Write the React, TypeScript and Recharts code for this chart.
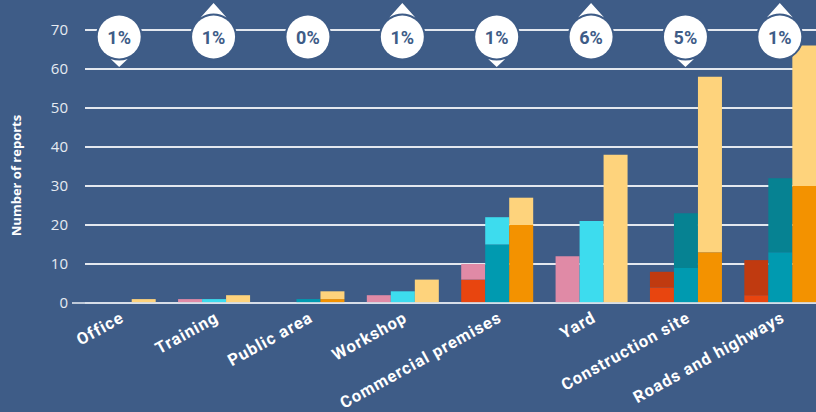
import React from 'react';
import { BarChart, Bar, XAxis, YAxis, CartesianGrid, ReferenceLine, ReferenceDot } from 'recharts';

const categories = ['Office', 'Training', 'Public area', 'Workshop', 'Commercial premises', 'Yard', 'Construction site', 'Roads and highways'];

// three stacks per category, each built from a lower, middle and upper part
const aBase = [0, 0, 0, 0, 6, 0, 4, 2];
const aMid = [0, 0, 0, 0, 0, 0, 4, 9];
const aTop = [0, 1, 0, 2, 4, 12, 0, 0];
const bBase = [0, 0, 1, 0, 15, 0, 9, 13];
const bMid = [0, 0, 0, 0, 0, 0, 14, 19];
const bTop = [0, 1, 0, 3, 7, 21, 0, 0];
const cBase = [0, 0, 1, 0, 20, 0, 13, 30];
const cTop = [1, 2, 2, 6, 7, 38, 45, 36];

const changes = ['1%', '1%', '0%', '1%', '1%', '6%', '5%', '1%'];
const trends = ['down', 'up', 'none', 'up', 'down', 'up', 'down', 'up'];

const yTicks = [0, 10, 20, 30, 40, 50, 60, 70];

const BG = '#3E5C87';
const GRID = '#E3E8EF';

const data = categories.map((name, i) => ({
  name,
  aBase: aBase[i],
  aMid: aMid[i],
  aTop: aTop[i],
  bBase: bBase[i],
  bMid: bMid[i],
  bTop: bTop[i],
  cBase: cBase[i],
  cTop: cTop[i],
}));

const GridLine = (props: any) => (
  <line
    key={props.key}
    x1={props.x1 + 13}
    x2={props.x2}
    y1={props.y1}
    y2={props.y2}
    stroke={GRID}
    strokeWidth={2}
  />
);

const XTick = (props: any) => {
  const { x, y, payload } = props;
  const tx = x + 6;
  const ty = y + 10;
  return (
    <text
      x={tx}
      y={ty}
      textAnchor="end"
      fill="#FFFFFF"
      fontFamily="Roboto, sans-serif"
      fontWeight={700}
      fontSize={16.5}
      letterSpacing={1}
      transform={`rotate(-29, ${tx}, ${ty})`}
    >
      {payload.value}
    </text>
  );
};

const makeBadge = (label: string, trend: string) => (props: any) => {
  const cx = props.cx;
  const cy = props.cy + 7;
  const r = 21.5;
  const R = 23.5;
  let arrow = null;
  if (trend === 'up') {
    const w = 13;
    const h = Math.sqrt(R * R - w * w);
    arrow = (
      <path
        d={`M${cx - w},${cy - h} L${cx},${cy - 34} L${cx + w},${cy - h} A${R} ${R} 0 0 0 ${cx - w},${cy - h} Z`}
        fill="#FFFFFF"
      />
    );
  } else if (trend === 'down') {
    const w = 8.5;
    const h = Math.sqrt(R * R - w * w);
    arrow = (
      <path
        d={`M${cx - w},${cy + h} L${cx},${cy + 30} L${cx + w},${cy + h} A${R} ${R} 0 0 1 ${cx - w},${cy + h} Z`}
        fill="#FFFFFF"
      />
    );
  }
  return (
    <g>
      <circle cx={cx} cy={cy} r={r} fill="#FFFFFF" stroke={BG} strokeWidth={4} paintOrder="stroke" />
      {arrow}
      <text
        x={cx}
        y={cy + 6.5}
        textAnchor="middle"
        fill={BG}
        fontFamily="Roboto, sans-serif"
        fontWeight={700}
        fontSize={18}
      >
        {label}
      </text>
    </g>
  );
};

const App: React.FC = () => {
  return (
    <div style={{ position: 'absolute', left: 0, top: 0, width: 816, height: 412, overflow: 'hidden', background: BG }}>
      <BarChart
        width={827}
        height={412}
        data={data}
        margin={{ top: 30, right: 0, bottom: 0, left: 0 }}
        barCategoryGap={11.7}
        barGap={0}
      >
        <CartesianGrid vertical={false} horizontal={GridLine} />
        <XAxis
          dataKey="name"
          axisLine={false}
          tickLine={false}
          height={109}
          interval={0}
          tick={<XTick />}
        />
        <YAxis
          width={72}
          domain={[0, 70]}
          ticks={yTicks}
          axisLine={false}
          tickLine={false}
          tickSize={0}
          tickMargin={4}
          tick={{ fill: '#E6EBF2', fontSize: 15, fontFamily: "'Open Sans', sans-serif" }}
          label={{
            content: (p: any) => {
              const vb = p.viewBox;
              const lx = vb.x + 21;
              const ly = vb.y + vb.height / 2 + 9;
              return (
                <text
                  x={lx}
                  y={ly}
                  textAnchor="middle"
                  fill="#FFFFFF"
                  fontFamily="'Open Sans', sans-serif"
                  fontWeight={700}
                  fontSize={13}
                  transform={`rotate(-90, ${lx}, ${ly})`}
                >
                  Number of reports
                </text>
              );
            },
          }}
        />
        <Bar dataKey="aBase" stackId="a" fill="#E8450F" isAnimationActive={false} />
        <Bar dataKey="aMid" stackId="a" fill="#C03A10" isAnimationActive={false} />
        <Bar dataKey="aTop" stackId="a" fill="#E08AA6" isAnimationActive={false} />
        <Bar dataKey="bBase" stackId="b" fill="#009AB0" isAnimationActive={false} />
        <Bar dataKey="bMid" stackId="b" fill="#068292" isAnimationActive={false} />
        <Bar dataKey="bTop" stackId="b" fill="#3DDCEE" isAnimationActive={false} />
        <Bar dataKey="cBase" stackId="c" fill="#F39200" isAnimationActive={false} />
        <Bar dataKey="cTop" stackId="c" fill="#FED37C" isAnimationActive={false} />
        <ReferenceLine y={0} stroke="#D5DCE6" strokeWidth={2} strokeOpacity={0.85} />
        {categories.map((c, i) => (
          <ReferenceDot
            key={c}
            x={c}
            y={70}
            ifOverflow="visible"
            shape={makeBadge(changes[i], trends[i])}
          />
        ))}
      </BarChart>
    </div>
  );
};

export default App;
